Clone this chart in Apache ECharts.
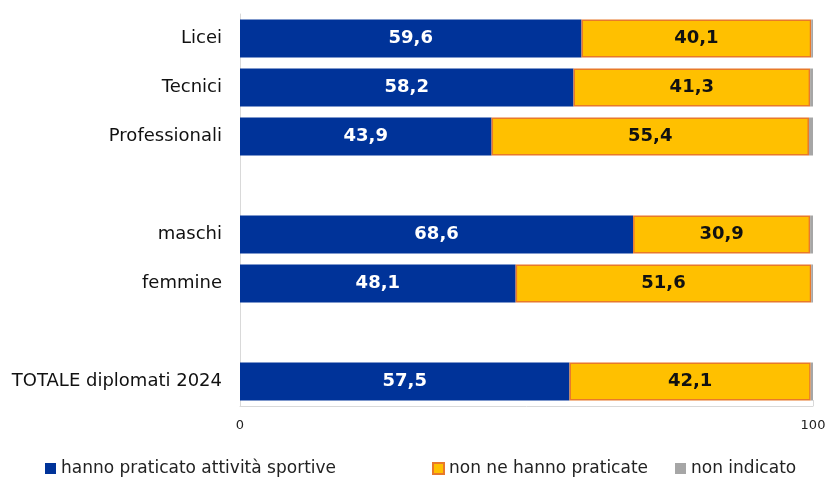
<!DOCTYPE html>
<html>
<head>
<meta charset="utf-8">
<script src="https://cdn.jsdelivr.net/npm/echarts@6/dist/echarts.min.js"></script>
<style>
  html, body { margin: 0; padding: 0; background: #fff; }
  #chart { width: 829px; height: 480px; }
</style>
</head>
<body>
<div id="chart"></div>
<script>
// categorie (righe vuote = spazio tra i gruppi)
var categories = ['Licei', 'Tecnici', 'Professionali', ' ', 'maschi', 'femmine', '  ', 'TOTALE diplomati 2024'];
var praticato = [59.6, 58.2, 43.9, null, 68.6, 48.1, null, 57.5];
var nonPraticato = [40.1, 41.3, 55.4, null, 30.9, 51.6, null, 42.1];
var nonIndicato = [0.3, 0.5, 0.7, null, 0.5, 0.3, null, 0.4];
var xTicks = [0, 100];
var seriesNames = ['hanno praticato attività sportive', 'non ne hanno praticate', 'non indicato'];

var fontFam = 'DejaVu Sans';
function comma(p) { return p.value == null ? '' : p.value.toFixed(1).replace('.', ','); }

// una legenda per voce, per avere le posizioni come nell'originale
var legendX = [40, 427, 670];
var legends = seriesNames.map(function (n, i) {
  return {
    top: 455,
    left: legendX[i],
    itemWidth: 11,
    itemHeight: 11,
    itemGap: 0,
    icon: 'rect',
    textStyle: { fontSize: 17, color: '#222', fontFamily: fontFam },
    data: [n]
  };
});

var chart = echarts.init(document.getElementById('chart'));
chart.setOption({
  animation: false,
  textStyle: { fontFamily: fontFam },
  grid: { left: 240, right: 16, top: 14, bottom: 74 },
  legend: legends,
  xAxis: {
    type: 'value',
    min: xTicks[0],
    max: xTicks[1],
    interval: 100,
    axisLine: { show: true, lineStyle: { color: '#d9d9d9' } },
    axisTick: { show: true, inside: true, length: 6, lineStyle: { color: '#d9d9d9' } },
    splitLine: { show: false },
    axisLabel: { color: '#222', fontSize: 13, margin: 13 }
  },
  yAxis: {
    type: 'category',
    inverse: true,
    data: categories,
    axisLine: { show: true, lineStyle: { color: '#d9d9d9' } },
    axisTick: { show: false },
    axisLabel: { color: '#111', fontSize: 18, margin: 18 }
  },
  series: [{
    name: seriesNames[0],
    type: 'bar',
    stack: 'tot',
    barWidth: 38,
    itemStyle: { color: '#003399' },
    label: { show: true, position: 'inside', formatter: comma, color: '#fff', fontWeight: 'bold', fontSize: 18 },
    data: praticato
  }, {
    name: seriesNames[1],
    type: 'bar',
    stack: 'tot',
    barWidth: 38,
    itemStyle: { color: '#FFC000', borderColor: '#E8792A', borderWidth: 1.5 },
    label: { show: true, position: 'inside', formatter: comma, color: '#111', fontWeight: 'bold', fontSize: 18 },
    data: nonPraticato
  }, {
    name: seriesNames[2],
    type: 'bar',
    stack: 'tot',
    barWidth: 38,
    itemStyle: { color: '#A6A6A6' },
    data: nonIndicato
  }]
});
</script>
</body>
</html>
